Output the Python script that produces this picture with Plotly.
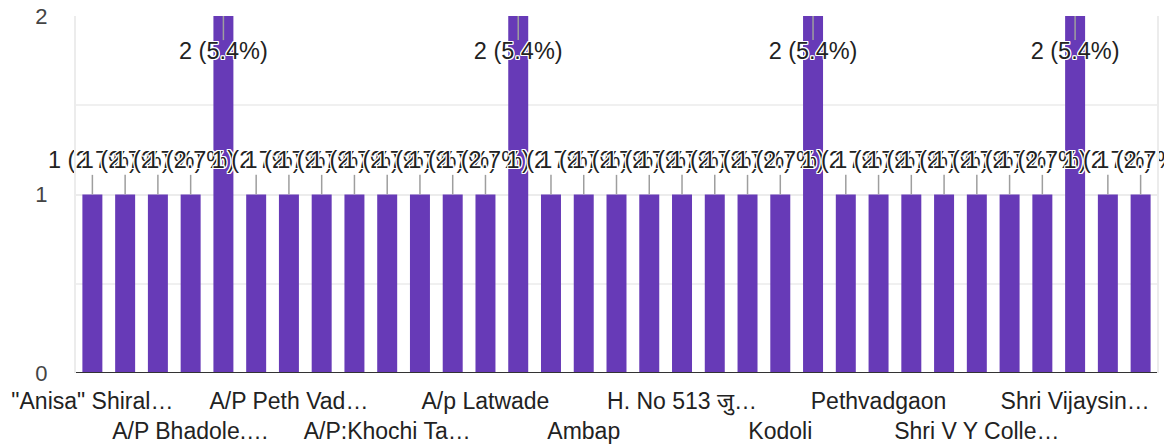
import plotly.graph_objects as go

# ---- data ----
values = [1, 1, 1, 1, 2, 1, 1, 1, 1, 1, 1, 1, 1, 2, 1, 1, 1, 1, 1, 1, 1, 1, 2,
          1, 1, 1, 1, 1, 1, 1, 2, 1, 1]
tick_labels = ['"Anisa" Shiral…', 'A/P Bhadole.…', 'A/P Peth Vad…', 'A/P:Khochi Ta…',
               'A/p Latwade', 'Ambap', 'H. No 513 जु…', 'Kodoli', 'Pethvadgaon',
               'Shri V Y Colle…', 'Shri Vijaysin…']
label_step = 3
y_ticks = [0, 1, 2]

total = sum(values)
x = list(range(len(values)))
purple = "#673ab7"
font_fam = "Liberation Sans, Arial, Noto Sans, sans-serif"

fig = go.Figure()
fig.add_trace(go.Bar(x=x, y=values, marker_color=purple, marker_line_width=0,
                     hoverinfo="skip"))

# leader lines
lx, ly = [], []
for xi, v in zip(x, values):
    if v >= max(values):
        y0, y1 = v, v - 0.135
    else:
        y0, y1 = v, v + 0.11
    lx += [xi, xi, None]
    ly += [y0, y1, None]
fig.add_trace(go.Scatter(x=lx, y=ly, mode="lines",
                         line=dict(color="#9e9e9e", width=1.5), hoverinfo="skip"))

# value labels with white halo
halo = ("1px 1px 0 white, -1px -1px 0 white, 1px -1px 0 white, -1px 1px 0 white, "
        "0 1px 0 white, 0 -1px 0 white, 1px 0 0 white, -1px 0 0 white")
for xi, v in zip(x, values):
    ty = v - 0.21 if v >= max(values) else v + 0.18
    fig.add_trace(go.Scatter(
        x=[xi], y=[ty], mode="text",
        text=[f"{v} ({v / total * 100:.1f}%)"],
        textposition="middle center",
        textfont=dict(family=font_fam, size=23.5, color="#222222", shadow=halo),
        hoverinfo="skip", cliponaxis=False))

tickvals = x[::label_step][:len(tick_labels)]
ticktext = [t if i % 2 == 0 else "<br>" + t for i, t in enumerate(tick_labels)]

fig.update_layout(
    width=1164, height=448,
    margin=dict(l=76, r=7, t=16, b=75, autoexpand=False),
    paper_bgcolor="white", plot_bgcolor="white",
    showlegend=False, bargap=0.39,
    font=dict(family=font_fam, size=22, color="#222222"),
    xaxis=dict(range=[-0.5, len(values) - 0.5], tickvals=tickvals, ticktext=ticktext,
               tickangle=0, showgrid=False, zeroline=False, showline=False,
               ticks="", automargin=False, ticklabelstandoff=12,
               tickfont=dict(size=23, color="#222222")),
    yaxis=dict(range=[0, 2], tickvals=y_ticks, showgrid=True, gridcolor="#ececec",
               gridwidth=2, zeroline=False, showline=True, linecolor="#ececec",
               linewidth=2, mirror=True, ticks="", ticklabelstandoff=22,
               automargin=False, tickfont=dict(size=22, color="#444444"),
               minor=dict(dtick=0.5, showgrid=True, gridcolor="#f0f0f0", gridwidth=2)),
)
# dark baseline
fig.add_shape(type="line", xref="paper", yref="y", x0=0, x1=1, y0=0, y1=0,
              line=dict(color="#333333", width=2))

fig.write_html("out.html", config={"displayModeBar": False},
               post_script="document.body.style.margin='0';"
                           "document.body.style.overflow='hidden';")
